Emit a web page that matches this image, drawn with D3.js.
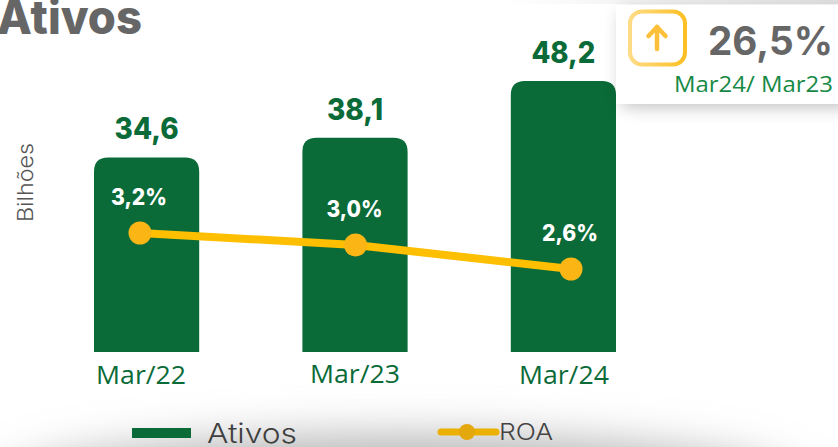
<!DOCTYPE html>
<html><head><meta charset="utf-8">
<script src="https://cdn.jsdelivr.net/npm/d3@7"></script>
<style>html,body{margin:0;padding:0;background:#fff;overflow:hidden}svg{display:block}</style>
</head><body><div id="c"></div>
<script>
const categories = ["Mar/22","Mar/23","Mar/24"];
const ativos = [34.6,38.1,48.2];
const ativosLabels = ["34,6","38,1","48,2"];
const roa = [3.2,3.0,2.6];
const roaLabels = ["3,2%","3,0%","2,6%"];
const titleText = "Ativos";
const yAxisLabel = "Bilhões";
const legendLabels = ["Ativos","ROA"];
const cardValue = "26,5%";
const cardCaption = "Mar24/ Mar23";

const W=838,H=447, green="#0a6b38", gold="#fdbf00", grey="#666666";
const head='Inter, "Open Sans", sans-serif', body='"Open Sans", sans-serif';
const svg=d3.select("#c").append("svg").attr("width",W).attr("height",H);
const defs=svg.append("defs");
const bl=defs.append("filter").attr("id","blur").attr("x","-30%").attr("y","-30%").attr("width","160%").attr("height","160%");
bl.append("feGaussianBlur").attr("stdDeviation",9);
const bl2=defs.append("filter").attr("id","blur2").attr("x","-30%").attr("y","-150%").attr("width","160%").attr("height","400%");
bl2.append("feGaussianBlur").attr("stdDeviation",22);
const g=defs.append("linearGradient").attr("id","ring").attr("x1","0").attr("x2","1");
g.append("stop").attr("offset",0).attr("stop-color","#fedc86");
g.append("stop").attr("offset",1).attr("stop-color","#fdbf24");
const tg=defs.append("linearGradient").attr("id","topfade").attr("x1","0").attr("x2","1");
tg.append("stop").attr("offset",0).attr("stop-color","#f2f2f2").attr("stop-opacity",0);
tg.append("stop").attr("offset",0.5).attr("stop-color","#efefef");
tg.append("stop").attr("offset",1).attr("stop-color","#e2e2e2");

// bottom shadow
svg.append("ellipse").attr("cx",400).attr("cy",488).attr("rx",400).attr("ry",52).attr("fill","#b4b4b4").attr("filter","url(#blur2)");
// top hairline
svg.append("rect").attr("x",500).attr("y",0).attr("width",338).attr("height",4).attr("fill","url(#topfade)");

const x=d3.scaleBand().domain(categories).range([94,616]).paddingInner(0.4952).paddingOuter(0);
const y=d3.scaleLinear().domain([0,48.2]).range([352,81]);
const xp=d3.scalePoint().domain(categories).range([140,571]);
const yr=d3.scaleLinear().domain([2.6,3.2]).range([269,233]);

const barPath=(d,i)=>{const c=categories[i],x0=x(c),w=x.bandwidth(),t=y(d),b=y(0),r=14;
  const p=d3.path();p.moveTo(x0,b);p.lineTo(x0,t+r);p.quadraticCurveTo(x0,t,x0+r,t);p.lineTo(x0+w-r,t);p.quadraticCurveTo(x0+w,t,x0+w,t+r);p.lineTo(x0+w,b);p.closePath();return p.toString();};
svg.append("g").selectAll("path").data(ativos).join("path").attr("d",barPath).attr("fill",green);

const fit=(sel,len)=>sel.attr("textLength",len).attr("lengthAdjust","spacingAndGlyphs");

// card
svg.append("rect").attr("x",622).attr("y",12).attr("width",230).attr("height",94).attr("fill","#000").attr("opacity",.28).attr("filter","url(#blur)");
svg.append("rect").attr("x",616).attr("y",5).attr("width",222).attr("height",99).attr("fill","#fff");
svg.append("rect").attr("x",630).attr("y",11.5).attr("width",55).attr("height",53).attr("rx",12).attr("fill","none").attr("stroke","url(#ring)").attr("stroke-width",4);
svg.append("path").attr("d",d3.line()([[657,49],[657,27]])).attr("stroke","#fdc03a").attr("stroke-width",4.5).attr("stroke-linecap","round").attr("fill","none");
svg.append("path").attr("d",d3.line()([[648.5,36],[657,27],[665.5,36]])).attr("stroke","#fdc03a").attr("stroke-width",4.5).attr("stroke-linecap","round").attr("stroke-linejoin","round").attr("fill","none");
fit(svg.append("text").text(cardValue).attr("x",708).attr("y",55).attr("font-family",head).attr("font-weight",700).attr("font-size",39).attr("fill",grey),125);
fit(svg.append("text").text(cardCaption).attr("x",674).attr("y",92).attr("font-family",body).attr("font-size",22.5).attr("fill","#168a45"),159);

// title
fit(svg.append("text").text(titleText).attr("x",-3).attr("y",34).attr("font-family",head).attr("font-weight",800).attr("font-size",47).attr("fill",grey),145);
// y label
fit(svg.append("text").text(yAxisLabel).attr("transform","translate(33,222) rotate(-90)").attr("font-family",head).attr("font-weight",300).attr("font-size",21).attr("fill","#555"),79);

// value labels
const valW=[64,56,64];
svg.append("g").selectAll("text").data(ativosLabels).join("text").text(d=>d)
 .attr("x",(d,i)=>x(categories[i])+x.bandwidth()/2-valW[i]/2).attr("y",(d,i)=>y(ativos[i])-18)
 .attr("textLength",(d,i)=>valW[i]).attr("lengthAdjust","spacingAndGlyphs")
 .attr("font-family",head).attr("font-weight",800).attr("font-size",29.5).attr("fill",green);

// line
svg.append("path").datum(roa).attr("d",d3.line().x((d,i)=>xp(categories[i])).y(d=>yr(d))).attr("fill","none").attr("stroke",gold).attr("stroke-width",8);
svg.append("g").selectAll("circle").data(roa).join("circle").attr("cx",(d,i)=>xp(categories[i])).attr("cy",d=>yr(d)).attr("r",11.5).attr("fill","#fbb616");
svg.append("g").selectAll("text").data(roaLabels).join("text").text(d=>d)
 .attr("x",(d,i)=>xp(categories[i])-29).attr("y",(d,i)=>yr(roa[i])-28)
 .attr("textLength",56).attr("lengthAdjust","spacingAndGlyphs")
 .attr("font-family",head).attr("font-weight",800).attr("font-size",22.5).attr("fill","#fff");

// category labels
const xAxis=d3.axisBottom(x).tickSize(0);
const ag=svg.append("g").attr("transform","translate(0,352)").call(xAxis);
ag.select(".domain").remove();
ag.selectAll("text").attr("font-family",body).attr("font-size",26).attr("fill",green).attr("dy",0)
  .attr("y",(d,i)=>[32,31,32][i]).attr("x",(d,i)=>[-5.5,0,0.5][i]).attr("textLength",90).attr("lengthAdjust","spacingAndGlyphs");

// legend
svg.append("rect").attr("x",132).attr("y",428).attr("width",59).attr("height",10).attr("fill",green);
fit(svg.append("text").text(legendLabels[0]).attr("x",207).attr("y",443).attr("font-family",head).attr("font-weight",300).attr("font-size",27.5).attr("fill","#3f3f3f"),90);
svg.append("line").attr("x1",441).attr("x2",496).attr("y1",432).attr("y2",432).attr("stroke","#ecb000").attr("stroke-width",7).attr("stroke-linecap","round");
svg.append("circle").attr("cx",467).attr("cy",432).attr("r",8).attr("fill","#e4a80e");
fit(svg.append("text").text(legendLabels[1]).attr("x",499).attr("y",440).attr("font-family",head).attr("font-weight",300).attr("font-size",23).attr("fill","#444"),54);
</script></body></html>
